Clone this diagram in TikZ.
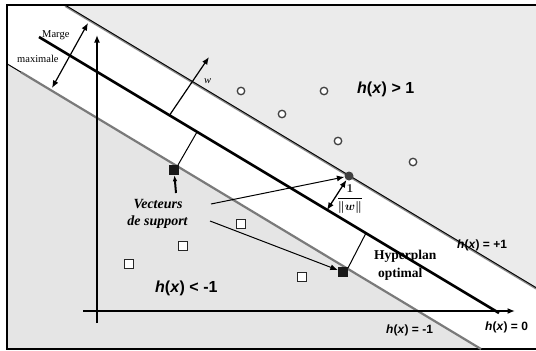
\documentclass[tikz,border=0pt]{standalone}
\usepackage{fontspec}
\usepackage{bm}
\setmainfont{Liberation Serif}
\setsansfont{Liberation Sans}
\usetikzlibrary{arrows.meta}
\begin{document}
\begin{tikzpicture}[x=1pt,y=-1pt,
  tip/.style={-{Latex[length=7.5pt,width=6pt]}},
  dtip/.style={{Latex[length=7.5pt,width=6pt]}-{Latex[length=7.5pt,width=6pt]}},
  hlab/.style={font=\sffamily\bfseries\fontsize{16}{18}\selectfont, inner sep=0pt, anchor=base west},
  hsmall/.style={font=\sffamily\bfseries\fontsize{12}{14}\selectfont, inner sep=0pt, anchor=base west},
  slab/.style={font=\fontsize{10.5}{12}\selectfont, inner sep=0pt, anchor=base west},
  vlab/.style={font=\bfseries\itshape\fontsize{14}{16}\selectfont, inner sep=0pt, anchor=base},
  blab/.style={font=\bfseries\fontsize{13.5}{15}\selectfont, inner sep=0pt, anchor=base west},
  opencirc/.style={circle, draw=black!75, line width=1.3pt, fill=white, minimum size=7.5pt, inner sep=0pt},
  opensq/.style={rectangle, draw=black!85, line width=1.4pt, fill=white, minimum size=8.5pt, inner sep=0pt},
  filledsq/.style={rectangle, fill=black!90, minimum size=10pt, inner sep=0pt},
  filledcirc/.style={circle, fill=black!75, minimum size=9pt, inner sep=0pt},
]
\useasboundingbox (0,0) rectangle (536,351);
\fill[white] (0,0) rectangle (536,351);
% regions
\fill[gray!16] (65,5) -- (536,5) -- (536,287.6) -- cycle;
\fill[gray!20] (7,63.8) -- (481,349) -- (7,349) -- cycle;
% frame
\draw[line width=2pt] (536,5) -- (7,5) -- (7,349) -- (536,349);

% coordinates
\coordinate (u1) at (65,5);   \coordinate (u2) at (536,287.6);
\coordinate (u1s) at (65,6.3); \coordinate (u2s) at (536,288.9);
\coordinate (m1) at (39,37);  \coordinate (m2) at (499,313);
\coordinate (l0) at (7,63.8); \coordinate (l1) at (21,72.2); \coordinate (l2) at (481,349);
\coordinate (ya) at (97,323); \coordinate (yb) at (97,35);
\coordinate (xa) at (83,311); \coordinate (xb) at (515,311);
\coordinate (mgA) at (88,23); \coordinate (mgB) at (52,88);
\coordinate (wA) at (169,116); \coordinate (wB) at (209,57);
\coordinate (p1) at (197,132); \coordinate (p3) at (366,233);
\coordinate (vA) at (176,193);
\coordinate (s1) at (211,204); \coordinate (s2) at (210,221);
\coordinate (dB) at (327,210);

% labels
\node[blab] (hyp) at (374,259) {Hyperplan};
\node[blab] (opt) at (378,277) {optimal};

% separating lines
\draw[black!45, line width=1.3pt] (u1s) -- (u2s);
\draw[black, line width=1pt] (u1) -- (u2);
\draw[black, line width=2.6pt] (m1) -- (m2);
\draw[black!52, line width=2.2pt] (l1) -- (l2);
\draw[black, line width=1pt] (l0) -- (l1);

% axes
\draw[tip, line width=1.8pt] (ya) -- (yb);
\draw[tip, line width=1.8pt] (xa) -- (xb);

% margin arrow and w
\draw[dtip, line width=1.2pt] (mgA) -- (mgB);
\draw[tip, line width=1.2pt] (wA) -- (wB);

% points
\node[opencirc] (c1) at (241,91) {};
\node[opencirc] (c2) at (324,91) {};
\node[opencirc] (c3) at (282,114) {};
\node[opencirc] (c4) at (338,141) {};
\node[opencirc] (c5) at (413,162) {};
\node[opensq] (q1) at (241,224) {};
\node[opensq] (q2) at (183,246) {};
\node[opensq] (q3) at (129,264) {};
\node[opensq] (q4) at (302,277) {};

% perpendicular segments from support vectors
\draw[line width=1pt] (178,165) -- (p1);
\draw[line width=1pt] (348,268) -- (p3);
\node[filledsq] (sv1) at (174,170) {};
\node[filledsq] (sv3) at (343,272) {};
\node[filledcirc] (sv2) at (349,176) {};

% arrows from label
\draw[-{Latex[length=6pt,width=4.5pt]}, line width=2pt] (vA) -- (sv1);
\draw[tip, line width=1pt] (s1) -- (sv2);
\draw[tip, line width=1pt] (s2) -- (sv3);
\draw[dtip, line width=1.3pt] (sv2) -- (dB);

% texts
\node[hlab] (hgt) at (357,93) {\textit{h}(\textit{x}) > 1};
\node[hlab] (hlt) at (155,292) {\textit{h}(\textit{x}) < -1};
\node[hsmall] (hp1) at (457,248) {\textit{h}(\textit{x}) = +1};
\node[hsmall] (hm1) at (386,333) {\textit{h}(\textit{x}) = -1};
\node[hsmall] (h0) at (485,330) {\textit{h}(\textit{x}) = 0};
\node[vlab] (vec) at (158,208) {Vecteurs};
\node[vlab] (sup) at (157.5,225) {de support};
\node[slab] (marge) at (42,37) {Marge};
\node[slab] (maxi) at (17,62) {maximale};
\node[font=\itshape\fontsize{10.5}{12}\selectfont, inner sep=0pt, anchor=base west] (wl) at (204,83) {w};
\node[font=\fontsize{13}{15}\selectfont, inner sep=0pt] (frac) at (350,199) {$\displaystyle\bm{\frac{1}{\|w\|}}$};
\end{tikzpicture}
\end{document}
